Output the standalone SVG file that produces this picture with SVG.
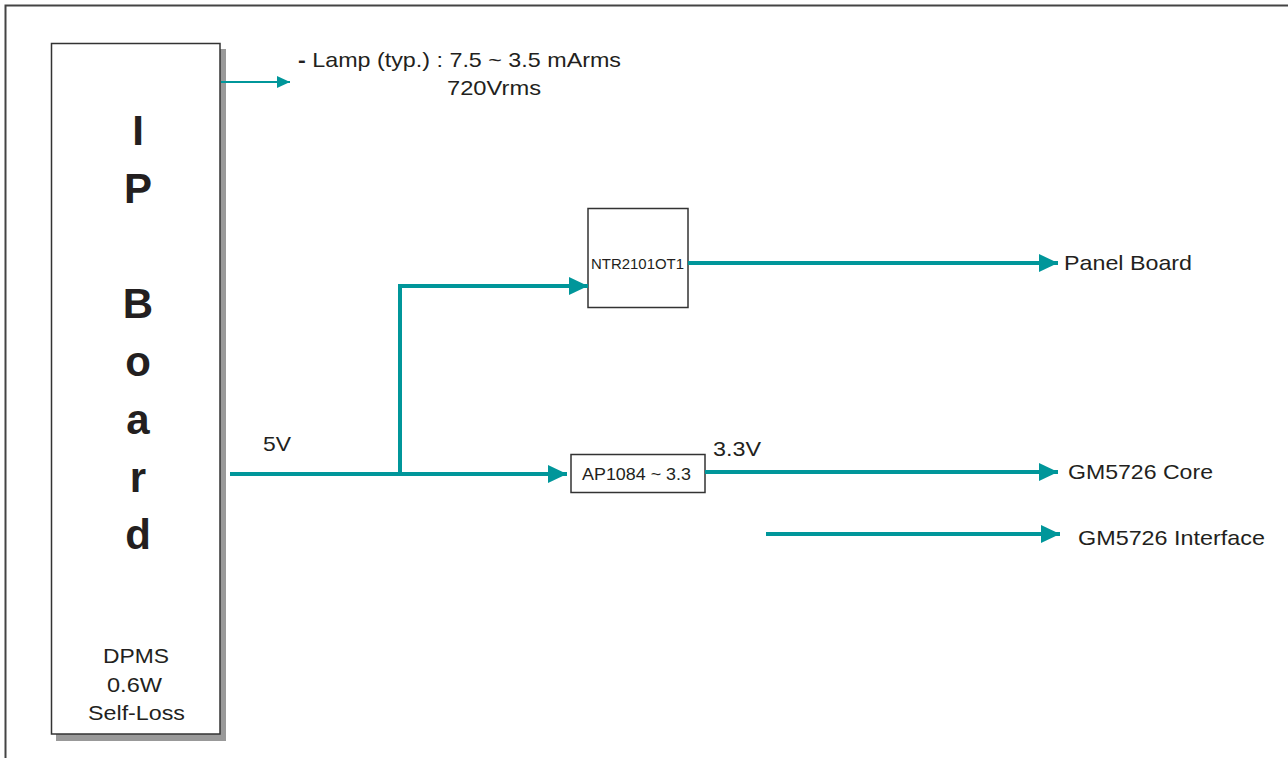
<svg xmlns="http://www.w3.org/2000/svg" width="1288" height="758" viewBox="0 0 1288 758">
<style>
text{font-family:"Liberation Sans",Arial,sans-serif;fill:#231f20}
.big{font-size:42px;font-weight:bold;text-anchor:middle}
.lbl{font-size:21px}
.box{fill:#fff;stroke:#333;stroke-width:1.5}
.wire{stroke:#00969a;stroke-width:4;fill:none}
</style>
<defs>
<marker id="ah" markerUnits="userSpaceOnUse" markerWidth="20" markerHeight="20" refX="19" refY="10" orient="auto" viewBox="0 0 20 20"><path d="M0,1 L19,10 L0,19 Z" fill="#00969a"/></marker>
<marker id="ahs" markerUnits="userSpaceOnUse" markerWidth="14" markerHeight="14" refX="13" refY="7" orient="auto" viewBox="0 0 14 14"><path d="M0,1 L13,7 L0,13 Z" fill="#00969a"/></marker>
</defs>
<rect width="1288" height="758" fill="#fff"/>
<path d="M5.5,758 V5.5 H1288" fill="none" stroke="#444" stroke-width="2"/>
<g id="ipboard">
<rect x="56" y="49" width="170" height="692" fill="#999"/>
<rect class="box" x="51.5" y="43.5" width="168.5" height="690.5"/>
<text class="big" x="138" y="145">I</text>
<text class="big" x="138" y="203">P</text>
<text class="big" x="138" y="318">B</text>
<text class="big" x="138" y="376">o</text>
<text class="big" x="138" y="434">a</text>
<text class="big" x="138" y="492">r</text>
<text class="big" x="138" y="549">d</text>
<text class="lbl" x="103" y="663" textLength="66" lengthAdjust="spacingAndGlyphs">DPMS</text>
<text class="lbl" x="107" y="692" textLength="55" lengthAdjust="spacingAndGlyphs">0.6W</text>
<text class="lbl" x="88" y="720" textLength="97" lengthAdjust="spacingAndGlyphs">Self-Loss</text>
</g>
<g id="lamp">
<text class="lbl" x="298" y="67" textLength="323" lengthAdjust="spacingAndGlyphs"><tspan font-weight="bold">-</tspan> Lamp (typ.) : 7.5 ~ 3.5 mArms</text>
<text class="lbl" x="447" y="95" textLength="94" lengthAdjust="spacingAndGlyphs">720Vrms</text>
</g>
<g id="ntr">
<rect class="box" x="588" y="208.5" width="100" height="99"/>
<text x="591" y="269" font-size="15" textLength="93" lengthAdjust="spacingAndGlyphs">NTR2101OT1</text>
</g>
<g id="ap">
<rect class="box" x="571" y="454.5" width="134" height="38"/>
<text x="582" y="480" font-size="17" textLength="109" lengthAdjust="spacingAndGlyphs">AP1084 ~ 3.3</text>
</g>
<g id="labels">
<text class="lbl" x="263" y="451" textLength="28" lengthAdjust="spacingAndGlyphs">5V</text>
<text class="lbl" x="713" y="456" textLength="48" lengthAdjust="spacingAndGlyphs">3.3V</text>
<text class="lbl" x="1064" y="270" textLength="128" lengthAdjust="spacingAndGlyphs">Panel Board</text>
<text class="lbl" x="1068" y="479" textLength="145" lengthAdjust="spacingAndGlyphs">GM5726 Core</text>
<text class="lbl" x="1078" y="545" textLength="187" lengthAdjust="spacingAndGlyphs">GM5726 Interface</text>
</g>
<g id="connectors">
<line x1="221" y1="82" x2="290" y2="82" stroke="#00969a" stroke-width="1.8" marker-end="url(#ahs)"/>
<path class="wire" d="M230,474 H567" marker-end="url(#ah)"/>
<path class="wire" d="M400,474 V286 H588" marker-end="url(#ah)"/>
<path class="wire" d="M688,263 H1058" marker-end="url(#ah)"/>
<path class="wire" d="M705,472 H1058" marker-end="url(#ah)"/>
<path class="wire" d="M766,534 H1060" marker-end="url(#ah)"/>
</g>
</svg>
